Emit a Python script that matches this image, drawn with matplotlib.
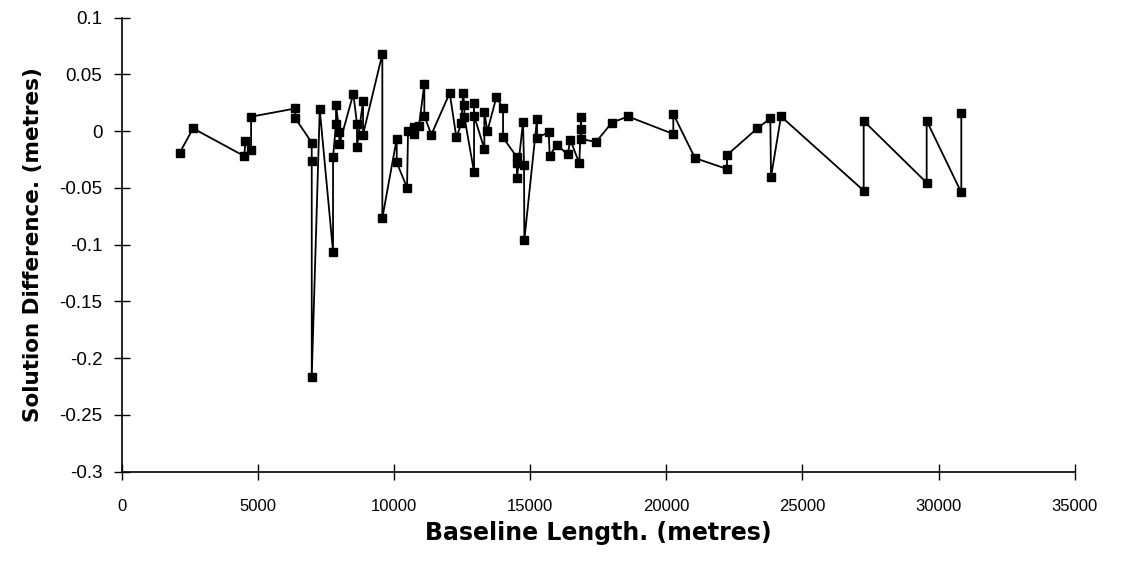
import matplotlib
matplotlib.use("Agg")
import matplotlib.pyplot as plt

# Baseline length (m) and solution difference (m), in plotted (connection) order
baseline_length = [
    2130, 2620, 4503, 4540, 4750, 4750, 6376, 6376, 6978, 6978, 6978,
    7272, 7760, 7760, 7870, 7870, 7992, 7992, 8506, 8641, 8641, 8862, 8862,
    9571, 9571,
    10100, 10100, 10478, 10515, 10724, 10746, 10918, 11114, 11114, 11371,
    12046, 12290, 12474, 12535, 12584, 12584, 12940, 12940, 12940,
    13318, 13318, 13428, 13759, 14004, 14004, 14506, 14506, 14517,
    14738, 14775, 14786, 15252, 15252, 15681, 15718, 15975, 16380, 16476,
    16806, 16868, 16880, 16880, 17419, 18000, 18594, 20258, 20258, 21055,
    22230, 22230, 23343, 23820, 23846, 24213, 27250, 27250, 29563, 29563,
    30835, 30835,
]
solution_difference = [
    -0.019, 0.0025, -0.022, -0.0084, -0.017, 0.0128, 0.020, 0.0113, -0.010, -0.026, -0.2166,
    0.0192, -0.106, -0.023, 0.0066, 0.0227, -0.0007, -0.0116, 0.033, 0.0063, -0.0137, 0.0266, -0.003,
    0.068, -0.0765,
    -0.0066, -0.0275, -0.0498, 0.0, 0.004, -0.0028, 0.005, 0.0416, 0.0134, -0.003,
    0.0336, -0.0055, 0.007, 0.0336, 0.023, 0.0125, -0.036, 0.025, 0.0137,
    -0.0157, 0.017, 0.0, 0.030, 0.020, -0.0055, -0.0227, -0.0283, -0.041,
    0.0084, -0.0298, -0.0962, 0.0107, -0.0057, -0.001, -0.0216, -0.012, -0.0204, -0.0075,
    -0.0284, 0.0122, 0.002, -0.0069, -0.0095, 0.0075, 0.013, -0.0025, 0.0151, -0.0237,
    -0.0333, -0.021, 0.0025, 0.0113, -0.0404, 0.013, -0.0524, 0.009, -0.0454, 0.0092,
    -0.054, 0.0163,
]

x_ticks = [0, 5000, 10000, 15000, 20000, 25000, 30000, 35000]
y_ticks = [0.1, 0.05, 0, -0.05, -0.1, -0.15, -0.2, -0.25, -0.3]
y_tick_labels = ["0.1", "0.05", "0", "-0.05", "-0.1", "-0.15", "-0.2", "-0.25", "-0.3"]
x_label = "Baseline Length. (metres)"
y_label = "Solution Difference. (metres)"

fig = plt.figure(figsize=(11.21, 5.65), dpi=100)
ax = fig.add_axes([0.1086, 0.1651, 0.8501, 0.8036])

ax.plot(baseline_length, solution_difference, color="black", linewidth=1.3,
        marker="s", markersize=6, markerfacecolor="black", markeredgecolor="black")

ax.set_xlim(0, 35000)
ax.set_ylim(-0.3, 0.1)
ax.set_xticks(x_ticks)
ax.set_xticklabels([str(t) for t in x_ticks])
ax.set_yticks(y_ticks)
ax.set_yticklabels(y_tick_labels)

for s in ["top", "right"]:
    ax.spines[s].set_visible(False)
for s in ["left", "bottom"]:
    ax.spines[s].set_linewidth(1.2)
    ax.spines[s].set_color("black")

ax.tick_params(axis="both", direction="inout", length=12, width=1.0,
               colors="black")
ax.tick_params(axis="y", pad=8, labelsize=13.5)
ax.tick_params(axis="x", pad=14, labelsize=12)
for lbl in ax.get_xticklabels() + ax.get_yticklabels():
    lbl.set_family(["Liberation Sans", "DejaVu Sans"])

ax.set_xlabel(x_label, fontsize=17, fontweight="bold",
              family=["DejaVu Sans"], labelpad=5)
ax.set_ylabel(y_label, fontsize=15.5, fontweight="bold",
              family=["DejaVu Sans"], labelpad=12)

fig.savefig("out.png", dpi=100, facecolor="white")
